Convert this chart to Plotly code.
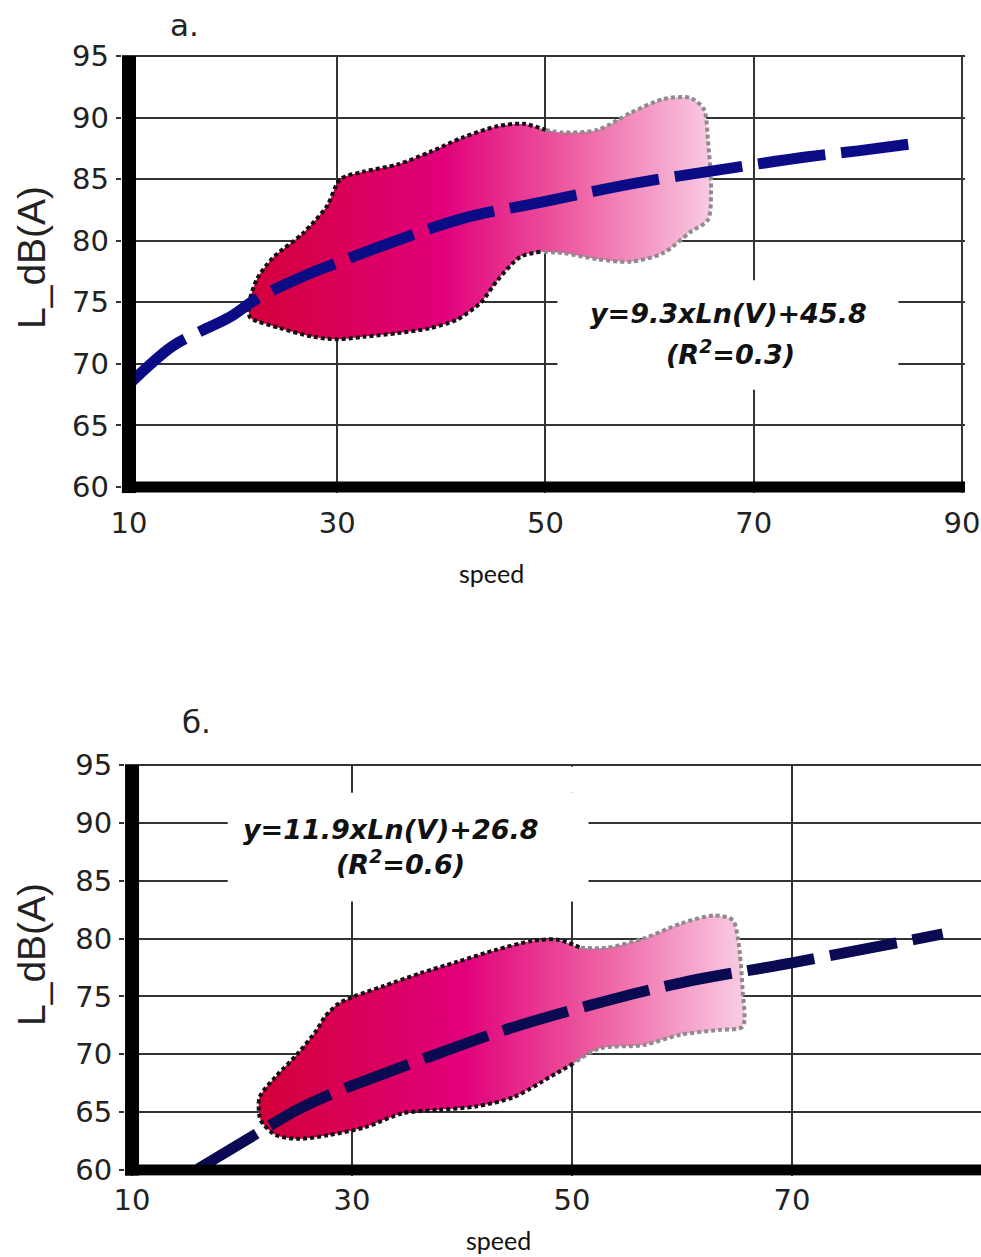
import plotly.graph_objects as go

# ---------------- data ----------------
x_ticks_a = [10, 30, 50, 70, 90]
x_ticks_b = [10, 30, 50, 70]
y_ticks = [60, 65, 70, 75, 80, 85, 90, 95]

# panel а: trend line
fit_a_v = [10.3, 14.1, 16.5, 19.7, 22.3, 26.7, 30.0, 35.0, 42.0, 50.0, 58.8, 67.8, 75.0, 80.0, 86.3]
fit_a_l = [68.6, 71.4, 72.5, 73.8, 75.3, 77.1, 78.2, 79.8, 81.8, 83.2, 84.7, 85.9, 86.8, 87.3, 88.0]

# panel а: data cloud outline (upper edge left->right, then lower edge right->left)
cloud_a_v = [21.6, 21.5, 22.3, 23.8, 26.7, 29.0, 30.3, 32.5, 35.8, 38.9, 42.1, 45.4, 47.9, 50.0,
             51.7, 55.0, 58.2, 61.3, 63.9, 65.2, 65.6, 65.9, 65.6, 63.9, 61.3, 58.2, 55.0, 51.7,
             49.5, 47.6, 45.4, 43.8, 41.5, 38.9, 35.8, 32.5, 30.0, 27.7, 24.5, 21.9]
cloud_a_l = [73.8, 74.8, 76.9, 78.6, 80.6, 82.8, 85.0, 85.6, 86.2, 87.2, 88.4, 89.3, 89.5, 89.0,
             88.8, 89.0, 90.4, 91.5, 91.6, 90.7, 88.2, 84.1, 81.7, 80.7, 79.0, 78.3, 78.5, 79.0,
             79.1, 78.7, 76.8, 75.0, 73.6, 72.9, 72.5, 72.2, 72.0, 72.2, 72.9, 73.6]

# panel б: trend line
fit_b_v = [16.0, 21.6, 25.0, 28.7, 32.0, 36.5, 43.9, 51.5, 60.0, 70.0, 83.7]
fit_b_l = [60.1, 63.3, 65.2, 66.8, 68.0, 69.6, 72.1, 74.2, 76.2, 77.9, 80.4]

# panel б: data cloud outline
cloud_b_v = [21.6, 21.6, 23.1, 25.1, 26.8, 27.5, 28.8, 30.2, 32.9, 36.2, 39.6, 43.0, 46.4, 48.7,
             50.8, 53.1, 56.5, 59.9, 62.9, 64.6, 65.1, 65.5, 65.5, 63.3, 59.9, 56.5, 52.5, 50.1,
             48.1, 44.7, 41.3, 37.9, 34.6, 31.2, 27.8, 25.1, 23.1, 21.9]
cloud_b_l = [64.6, 66.3, 68.1, 70.1, 72.1, 73.2, 74.4, 75.0, 75.9, 77.0, 78.0, 79.0, 79.8, 79.9,
             79.2, 79.2, 80.0, 81.3, 82.0, 81.6, 79.9, 75.6, 72.4, 72.1, 71.7, 70.8, 70.5, 69.2,
             68.1, 66.3, 65.5, 65.2, 64.9, 63.7, 63.0, 62.7, 63.0, 64.0]

eq_a = ["y=9.3xLn(V)+45.8", "(R<sup>2</sup>=0.3)"]
eq_b = ["y=11.9xLn(V)+26.8", "(R<sup>2</sup>=0.6)"]
panel_labels = ["а.", "б."]
y_title = "L_dB(A)"
x_title = "speed"

# ---------------- layout helpers ----------------
W, H = 981, 1257


def xdom(left_px, right_px):
    return [left_px / W, right_px / W]


def ydom(bottom_px, top_px):
    return [1 - bottom_px / H, 1 - top_px / H]


XR_A = [9.3, 90.3]
YR = [59.5, 95.1]
XR_B = [9.36, 87.18]

grad_scale = [[0.0, "#d3003a"], [0.42, "#e1007a"], [0.7, "#ee5ea2"], [1.0, "#f9cbe3"]]

fig = go.Figure()


def add_cloud(vs, ls, split_hi, split_lo, xa, ya):
    fig.add_trace(go.Scatter(
        x=vs + [vs[0]], y=ls + [ls[0]], mode="lines", fill="toself",
        line=dict(width=0, shape="spline", smoothing=0.8),
        fillgradient=dict(type="horizontal", colorscale=grad_scale,
                          start=min(vs), stop=max(vs)),
        xaxis=xa, yaxis=ya, showlegend=False, hoverinfo="skip"))
    dark_v = vs[split_lo:] + vs[:split_hi + 1]
    dark_l = ls[split_lo:] + ls[:split_hi + 1]
    light_v = vs[split_hi:split_lo + 1]
    light_l = ls[split_hi:split_lo + 1]
    fig.add_trace(go.Scatter(
        x=light_v, y=light_l, mode="lines",
        line=dict(color="#8c8c8c", width=4, dash="4px,3px", shape="spline", smoothing=0.8),
        xaxis=xa, yaxis=ya, showlegend=False, hoverinfo="skip"))
    fig.add_trace(go.Scatter(
        x=dark_v, y=dark_l, mode="lines",
        line=dict(color="#111111", width=4, dash="4px,3px", shape="spline", smoothing=0.8),
        xaxis=xa, yaxis=ya, showlegend=False, hoverinfo="skip"))


add_cloud(cloud_a_v, cloud_a_l, 13, 28, "x", "y")
fig.add_trace(go.Scatter(
    x=fit_a_v, y=fit_a_l, mode="lines",
    line=dict(color="#0b0b86", width=11, dash="68px,16px", shape="spline"),
    xaxis="x", yaxis="y", showlegend=False, hoverinfo="skip"))

add_cloud(cloud_b_v, cloud_b_l, 14, 27, "x2", "y2")
fig.add_trace(go.Scatter(
    x=fit_b_v, y=fit_b_l, mode="lines",
    line=dict(color="#0a0a52", width=11, dash="68px,16px", shape="spline"),
    xaxis="x2", yaxis="y2", showlegend=False, hoverinfo="skip"))

tick_font = dict(family="DejaVu Sans", size=29, color="#222222")
grid = dict(showgrid=True, gridcolor="#333333", gridwidth=1.5, showline=False,
            zeroline=False, tickfont=tick_font, automargin=False)

fig.update_layout(
    width=W, height=H, margin=dict(l=0, r=0, t=0, b=0, autoexpand=False),
    paper_bgcolor="white", plot_bgcolor="white",
    xaxis=dict(domain=xdom(121.7, 965.1), range=XR_A, tickmode="array", tickvals=x_ticks_a,
               anchor="y", ticks="", ticklabelstandoff=10, **grid),
    yaxis=dict(domain=ydom(493.2, 54.8), range=YR, tickmode="array", tickvals=y_ticks,
               anchor="x", ticks="outside", ticklen=5, tickcolor="#333333", tickwidth=1.5,
               ticklabelstandoff=1, **grid),
    xaxis2=dict(domain=xdom(125, 981), range=XR_B, tickmode="array", tickvals=x_ticks_b,
                anchor="y2", ticks="", ticklabelstandoff=4, **grid),
    yaxis2=dict(domain=ydom(1175.8, 763.8), range=YR, tickmode="array", tickvals=y_ticks,
                anchor="x2", ticks="outside", ticklen=5, tickcolor="#333333", tickwidth=1.5,
                ticklabelstandoff=1, **grid),
)

shapes = []
# white boxes behind equations
shapes.append(dict(type="rect", xref="x", yref="y", x0=51.15, x1=83.9, y0=67.9, y1=76.8,
                   fillcolor="white", line=dict(width=0), layer="above"))
shapes.append(dict(type="rect", xref="x2", yref="y2", x0=18.7, x1=51.5, y0=83.2, y1=92.6,
                   fillcolor="white", line=dict(width=0), layer="above"))
shapes.append(dict(type="rect", xref="x2", yref="y2", x0=49.0, x1=51.5, y0=92.6, y1=94.85,
                   fillcolor="white", line=dict(width=0), layer="above"))
# heavy black axes
for xr, yr, xrange in (("x", "y", XR_A), ("x2", "y2", XR_B)):
    shapes.append(dict(type="line", xref=xr, yref=yr, x0=10, x1=10, y0=YR[0], y1=95,
                       line=dict(color="black", width=14), layer="above"))
    shapes.append(dict(type="line", xref=xr, yref=yr, x0=xrange[0], x1=xrange[1], y0=60, y1=60,
                       line=dict(color="black", width=11), layer="above"))
fig.update_layout(shapes=shapes)

eq_font = dict(family="DejaVu Sans", size=27, color="#111111", weight="bold", style="italic")
ann = []
ann.append(dict(xref="x", yref="y", x=67.6, y=74.1, text=eq_a[0], showarrow=False, font=eq_font))
ann.append(dict(xref="x", yref="y", x=67.8, y=70.9, text=eq_a[1], showarrow=False, font=eq_font))
ann.append(dict(xref="x2", yref="y2", x=33.5, y=89.4, text=eq_b[0], showarrow=False, font=eq_font))
ann.append(dict(xref="x2", yref="y2", x=34.4, y=86.6, text=eq_b[1], showarrow=False, font=eq_font))

centered = dict(xref="paper", yref="paper", showarrow=False, xanchor="center", yanchor="middle")
lab_font = dict(family="DejaVu Sans", size=31, color="#222222")
ann.append(dict(x=184 / W, y=1 - 25 / H, text=panel_labels[0], font=lab_font, **centered))
ann.append(dict(x=196 / W, y=1 - 722 / H, text=panel_labels[1], font=lab_font, **centered))

yt_font = dict(family="Liberation Sans", size=39, color="#222222")
ann.append(dict(x=31 / W, y=1 - 258 / H, text=y_title, textangle=-90, font=yt_font, **centered))
ann.append(dict(x=31 / W, y=1 - 955 / H, text=y_title, textangle=-90, font=yt_font, **centered))

sp_font = dict(family="Lato", size=25, color="#111111")
ann.append(dict(x=492 / W, y=1 - 573 / H, text=x_title, font=sp_font, **centered))
ann.append(dict(x=498 / W, y=1 - 1240 / H, text=x_title, font=sp_font, **centered))
fig.update_layout(annotations=ann)

fig.write_html("out.html", config={"displayModeBar": False},
               post_script="document.body.style.margin='0';document.body.style.overflow='hidden';")
